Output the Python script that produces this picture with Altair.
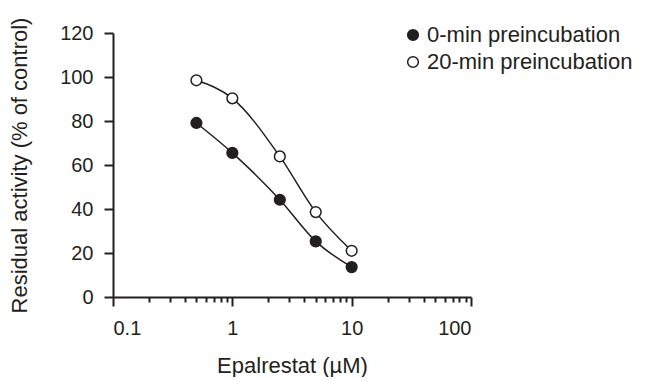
import altair as alt
import pandas as pd

conc = [0.5, 1, 2.5, 5, 10]
act_0min = [79.1, 65.5, 44.2, 25.3, 13.6]
act_20min = [98.5, 90.3, 63.9, 38.6, 21.0]
series_names = ["0-min preincubation", "20-min preincubation"]
x_ticks = [0.1, 0.2, 0.3, 0.4, 0.5, 0.6, 0.7, 0.8, 0.9,
           1, 2, 3, 4, 5, 6, 7, 8, 9,
           10, 20, 30, 40, 50, 60, 70, 80, 90, 100]
y_ticks = [0, 20, 40, 60, 80, 100, 120]

rows = []
for c, v in zip(conc, act_0min):
    rows.append({"conc": c, "act": v, "series": series_names[0]})
for c, v in zip(conc, act_20min):
    rows.append({"conc": c, "act": v, "series": series_names[1]})
df = pd.DataFrame(rows)

INK = "#231f20"
FONT = "Liberation Sans"
major = "abs(log(datum.value)/LN10 - round(log(datum.value)/LN10)) < 0.001"

x = alt.X(
    "conc:Q",
    scale=alt.Scale(type="log", domain=[0.1, 100]),
    axis=alt.Axis(
        values=x_ticks,
        title="Epalrestat (µM)",
        labelExpr=f"({major}) ? format(datum.value, '~g') : ''",
        tickSize={"condition": {"test": major, "value": 9}, "value": 5},
        labelPadding=12,
        titlePadding=17,
    ),
)
y = alt.Y(
    "act:Q",
    scale=alt.Scale(domain=[0, 120]),
    axis=alt.Axis(
        values=y_ticks,
        title="Residual activity (% of control)",
        tickSize=9,
        labelPadding=11,
        titlePadding=28,
    ),
)

lines = alt.Chart(df).mark_line(
    interpolate="monotone", color=INK, strokeWidth=1.5
).encode(x=x, y=y, detail="series:N")

points = alt.Chart(df).mark_circle(
    size=115, stroke=INK, strokeWidth=1.5, opacity=1
).encode(
    x=x,
    y=y,
    fill=alt.Fill(
        "series:N",
        scale=alt.Scale(domain=series_names, range=[INK, "white"]),
        legend=alt.Legend(
            title=None,
            orient="none",
            legendX=289,
            legendY=-9,
            labelFontSize=22,
            labelFont=FONT,
            labelColor=INK,
            symbolType="circle",
            symbolSize=115,
            symbolStrokeColor=INK,
            symbolStrokeWidth=1.5,
            symbolOpacity=1,
            labelOffset=3,
            rowPadding=5,
            padding=0,
            labelLimit=400,
        ),
    ),
)

chart = (
    alt.layer(lines, points)
    .properties(
        width=358,
        height=264,
        autosize=alt.AutoSizeParams(type="none"),
        padding={"left": 105, "top": 25, "right": 167, "bottom": 80},
    )
    .configure_view(stroke=None)
    .configure_axis(
        domainColor=INK,
        domainWidth=2,
        tickColor=INK,
        tickWidth=2,
        grid=False,
        labelFont=FONT,
        labelFontSize=20,
        labelColor=INK,
        titleFont=FONT,
        titleFontSize=22,
        titleFontWeight="normal",
        titleColor=INK,
    )
)

chart.save("out.html", embed_options={"renderer": "svg", "actions": False})
